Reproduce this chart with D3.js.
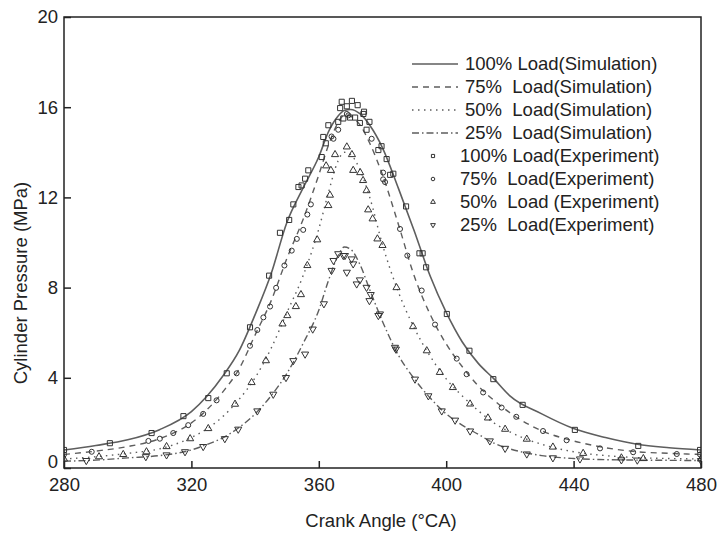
<!DOCTYPE html>
<html>
<head>
<meta charset="utf-8">
<script src="https://cdn.jsdelivr.net/npm/d3@7"></script>
<style>
  body { margin: 0; background: #fff; }
  text { font-family: "Liberation Sans", Arial, sans-serif; fill: #222; }
</style>
</head>
<body>
<svg id="chart"></svg>
<script>
// simulation curves: crank angle (°CA) and pressure (MPa)
const simAngle = [280, 290, 300, 310, 320, 325, 330, 335, 340, 345, 350, 355, 360, 363, 366, 368, 370, 373, 376, 380, 385, 390, 395, 400, 405, 410, 415, 420, 430, 440, 450, 460, 470, 480];
const sim100 = [0.8, 1.0, 1.25, 1.7, 2.5, 3.2, 4.1, 5.2, 6.8, 8.6, 10.9, 12.4, 13.8, 14.9, 15.6, 15.85, 15.9, 15.7, 15.2, 14.2, 12.4, 10.5, 8.5, 6.9, 5.6, 4.65, 3.95, 3.2, 2.4, 1.75, 1.35, 1.05, 0.9, 0.8];
const sim75 = [0.6, 0.75, 0.95, 1.3, 2.0, 2.6, 3.4, 4.4, 5.9, 7.4, 9.3, 11.0, 13.0, 14.3, 15.3, 15.65, 15.6, 15.2, 14.4, 13.0, 10.8, 8.5, 6.8, 5.5, 4.5, 3.65, 3.0, 2.45, 1.65, 1.2, 0.9, 0.72, 0.65, 0.6];
const sim50 = [0.4, 0.5, 0.65, 0.85, 1.35, 1.75, 2.3, 3.05, 4.0, 5.3, 6.9, 8.5, 10.6, 12.2, 13.6, 14.0, 13.9, 13.2, 12.0, 9.9, 7.8, 6.2, 4.95, 3.95, 3.2, 2.55, 2.0, 1.6, 1.05, 0.72, 0.55, 0.46, 0.42, 0.4];
const sim25 = [0.3, 0.35, 0.45, 0.55, 0.8, 1.05, 1.35, 1.8, 2.4, 3.2, 4.2, 5.5, 7.0, 8.3, 9.4, 9.8, 9.7, 9.0, 7.9, 6.5, 5.0, 3.95, 3.1, 2.4, 1.9, 1.5, 1.1, 0.85, 0.55, 0.42, 0.37, 0.35, 0.34, 0.33];

// experiment points
const exp100Angle = [280, 294.4, 307.5, 317.5, 325.3, 331.1, 338.4, 344.4, 347.8, 350.7, 352, 353.6, 354.6, 355.7, 356.7, 360.9, 361.4, 362.2, 363, 366.1, 366.7, 367.2, 367.7, 368.8, 369.8, 370.4, 371.4, 372.2, 372.9, 374, 374.2, 375, 375.9, 378.7, 379.7, 381.3, 382.4, 383.4, 387.4, 391.6, 392.6, 393.7, 400.2, 407.3, 414.8, 424, 440.4, 460.3, 479.7];
const exp100 = [0.8, 1.1, 1.55, 2.3, 3.1, 4.2, 6.24, 8.53, 10.43, 11.0, 11.69, 12.46, 12.53, 12.83, 13.2, 13.79, 14.68, 14.4, 15.2, 15.35, 15.96, 16.24, 15.5, 16.04, 15.54, 16.28, 15.54, 16.09, 15.3, 15.7, 15.8, 15.0, 15.35, 14.1, 14.27, 13.7, 13.0, 13.05, 11.6, 9.52, 9.52, 8.9, 6.83, 5.2, 3.94, 2.8, 1.69, 0.98, 0.8];

const exp75Angle = [280, 288.7, 306.5, 310.1, 314.3, 319, 323.7, 327.9, 334.2, 338.4, 340.7, 342.6, 344.7, 346.6, 349.2, 351.5, 353.1, 355.1, 356.4, 357.5, 364, 364.6, 366.1, 368.8, 369.3, 376.6, 380.2, 380.2, 380.8, 385.5, 387.8, 392.3, 396.5, 403.3, 406.4, 411.6, 417.4, 422, 430.4, 437.8, 448.3, 458.7, 472.4, 479.7];
const exp75 = [0.6, 0.72, 1.2, 1.3, 1.55, 1.9, 2.4, 3.0, 4.2, 5.42, 6.12, 6.68, 7.16, 7.99, 8.98, 9.64, 10.16, 10.56, 11.24, 11.69, 14.7, 14.6, 15.0, 15.7, 15.64, 14.6, 13.1, 12.8, 12.68, 10.6, 9.42, 7.87, 6.36, 4.85, 4.16, 3.35, 2.68, 2.27, 1.64, 1.23, 0.87, 0.7, 0.62, 0.6];

const exp50Angle = [280, 291, 298.6, 305.9, 312.2, 319.6, 325.3, 333.7, 338.9, 343.4, 348.6, 350.1, 352.8, 354.4, 356.4, 359.5, 362.3, 363, 363.5, 363.8, 365.1, 368.8, 370.4, 370.8, 373, 373.9, 375, 375.5, 376.9, 378.4, 380, 384.4, 389.6, 393.9, 398, 402.1, 407.5, 413.1, 418.5, 425.3, 433.5, 443, 455, 461.9, 480];
const exp50 = [0.4, 0.5, 0.6, 0.72, 0.95, 1.3, 1.75, 2.83, 3.79, 4.76, 6.39, 6.76, 7.16, 7.69, 8.98, 10.12, 13.4, 11.64, 12.1, 13.2, 13.9, 14.24, 13.9, 13.2, 13.1, 12.75, 12.3, 11.45, 11.05, 10.16, 9.87, 8.0, 6.27, 5.2, 4.24, 3.57, 2.84, 2.22, 1.72, 1.28, 0.93, 0.65, 0.45, 0.42, 0.4];

const exp25Angle = [287, 305.7, 312.2, 318, 323.7, 330.5, 334.7, 340.7, 345.7, 349.7, 352, 355.7, 358.1, 361.6, 364, 364.6, 366.1, 367.7, 368.2, 368.8, 370.3, 370.8, 371.9, 372.9, 375, 375.9, 376.3, 378.7, 379.2, 383.9, 384.2, 390.2, 394.4, 398.6, 402.8, 407.5, 413.7, 418.5, 425.3, 433.5, 442, 455, 460, 480];
const exp25 = [0.33, 0.5, 0.58, 0.72, 0.95, 1.3, 1.72, 2.53, 3.27, 4.01, 4.76, 5.05, 6.16, 7.28, 8.76, 9.2, 9.5, 9.42, 9.42, 8.68, 9.27, 9.05, 8.16, 8.34, 8.01, 7.42, 7.69, 6.76, 6.83, 5.35, 5.27, 3.94, 3.2, 2.53, 2.12, 1.64, 1.2, 0.87, 0.62, 0.45, 0.4, 0.36, 0.35, 0.33];

const xTicks = [280, 320, 360, 400, 440, 480];
const yTicks = [0, 4, 8, 12, 16, 20];

const legendLabels = [
  "100% Load(Simulation)", "75%  Load(Simulation)", "50%  Load(Simulation)", "25%  Load(Simulation)",
  "100% Load(Experiment)", "75%  Load(Experiment)", "50%  Load (Experiment)", "25%  Load(Experiment)"
];

const W = 717, H = 542;
const pL = 64, pR = 701, pT = 17, pB = 468;
const lineColor = "#5e5e5e";
const fs = 18.5;

const svg = d3.select("#chart").attr("width", W).attr("height", H);

const x = d3.scaleLinear().domain([280, 480]).range([pL, pR]);
const y = d3.scaleLinear().domain([0, 20]).range([pB, pT]);

svg.append("clipPath").attr("id", "clip")
  .append("rect").attr("x", pL).attr("y", pT).attr("width", pR - pL).attr("height", pB - pT);

const dashes = ["", "6,5", "1.5,4.5", "7,3,1.5,3"];
const sims = [sim100, sim75, sim50, sim25];

const line = d3.line().x((d) => x(d[0])).y((d) => y(d[1])).curve(d3.curveMonotoneX);

const plot = svg.append("g").attr("clip-path", "url(#clip)");

sims.forEach((s, i) => {
  plot.append("path")
    .datum(simAngle.map((a, j) => [a, s[j]]))
    .attr("d", line)
    .attr("fill", "none")
    .attr("stroke", lineColor)
    .attr("stroke-width", i === 0 ? 1.6 : 1.4)
    .attr("stroke-dasharray", dashes[i]);
});

const symbols = [d3.symbolSquare, d3.symbolCircle, d3.symbolTriangle, d3.symbolTriangle];
const sizes = [26, 20, 22, 22];
const exps = [[exp100Angle, exp100], [exp75Angle, exp75], [exp50Angle, exp50], [exp25Angle, exp25]];

function marker(g, i, size) {
  g.append("path")
    .attr("d", d3.symbol().type(symbols[i]).size(size))
    .attr("transform", i === 3 ? "rotate(180)" : null)
    .attr("fill", "none")
    .attr("stroke", "#333")
    .attr("stroke-width", 1);
}

exps.forEach((e, i) => {
  const pts = e[0].map((a, j) => [a, e[1][j]]);
  plot.selectAll(".m" + i)
    .data(pts)
    .enter()
    .append("g")
    .attr("class", "m" + i)
    .attr("transform", (d) => `translate(${x(d[0])},${y(d[1])})`)
    .each(function () { marker(d3.select(this), i, sizes[i]); });
});

// frame
svg.append("rect")
  .attr("x", pL).attr("y", pT)
  .attr("width", pR - pL).attr("height", pB - pT)
  .attr("fill", "none").attr("stroke", "#222").attr("stroke-width", 1.5);

const xAxis = svg.append("g")
  .attr("transform", `translate(0,${pB})`)
  .call(d3.axisBottom(x).tickValues(xTicks).tickSize(-7).tickPadding(10));
const yAxis = svg.append("g")
  .attr("transform", `translate(${pL},0)`)
  .call(d3.axisLeft(y).tickValues(yTicks).tickSize(-7).tickPadding(6));

[xAxis, yAxis].forEach((a) => {
  a.select(".domain").remove();
  a.selectAll("line").attr("stroke", "#222").attr("stroke-width", 1.5);
  a.selectAll("text").attr("font-size", fs).attr("fill", "#222")
    .style("font-family", '"Liberation Sans", Arial, sans-serif');
});
// "0" sits just above the "280" label, as in the reference
yAxis.selectAll("text").filter((d) => d === 0).attr("dy", "-0.02em");

svg.append("text")
  .attr("x", 381).attr("y", 527)
  .attr("text-anchor", "middle").attr("font-size", fs)
  .text("Crank Angle (°CA)");

svg.append("text")
  .attr("transform", "translate(27,283) rotate(-90)")
  .attr("text-anchor", "middle").attr("font-size", fs)
  .text("Cylinder Pressure (MPa)");

// legend
const legend = svg.append("g").attr("transform", "translate(412,64)");
const rows = legend.selectAll(".row").data(legendLabels).enter().append("g")
  .attr("class", "row")
  .attr("transform", (d, i) => `translate(0,${i * 23})`);

rows.append("text")
  .attr("x", (d, i) => (i < 4 ? 53 : 48))
  .attr("y", 0).attr("dy", "0.35em")
  .attr("font-size", fs)
  .style("white-space", "pre")
  .text((d) => d);

rows.each(function (d, i) {
  const g = d3.select(this);
  if (i < 4) {
    g.append("line")
      .attr("x1", 0).attr("x2", 46).attr("y1", 0).attr("y2", 0)
      .attr("stroke", lineColor).attr("stroke-width", 1.3)
      .attr("stroke-dasharray", dashes[i]);
  } else {
    const m = g.append("g").attr("transform", "translate(21,0)");
    marker(m, i - 4, 10);
  }
});
</script>
</body>
</html>
